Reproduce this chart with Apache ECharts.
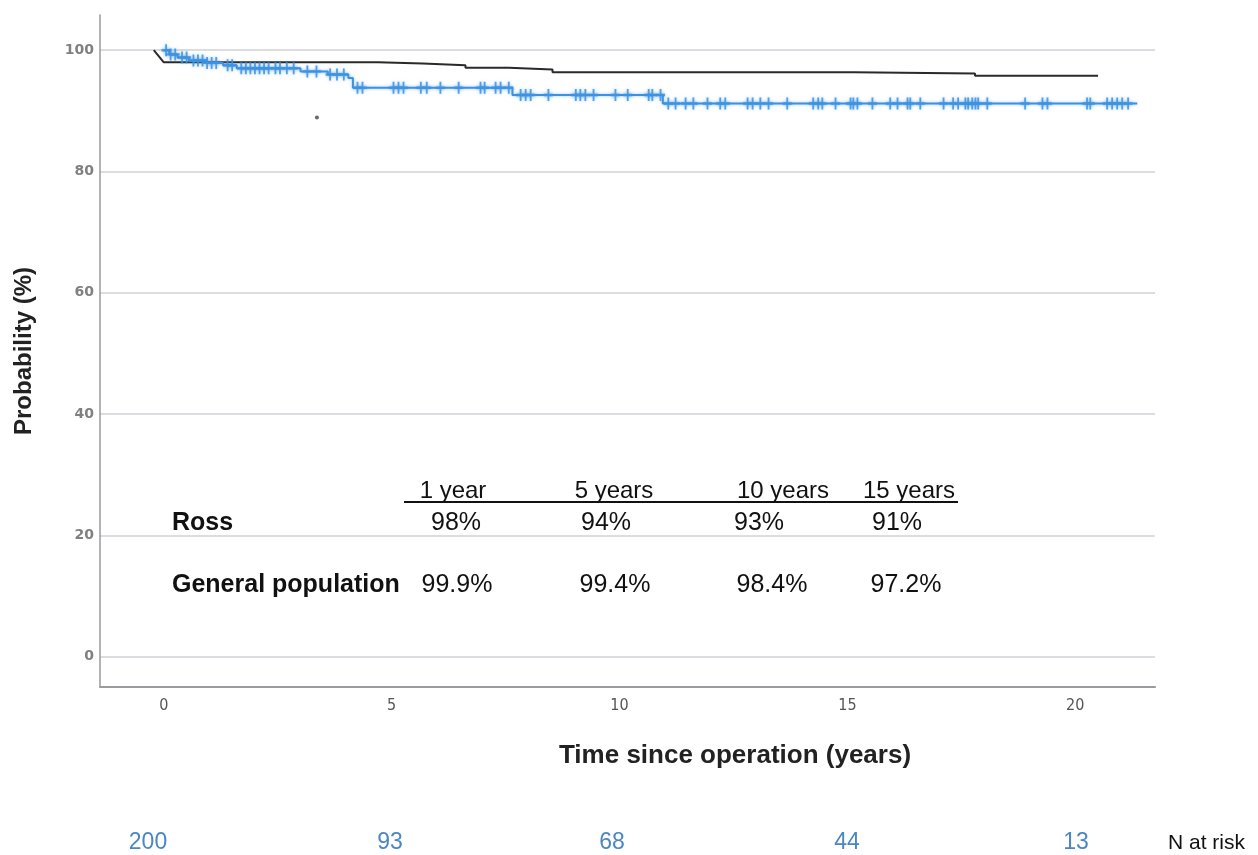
<!DOCTYPE html>
<html>
<head>
<meta charset="utf-8">
<script src="https://cdn.jsdelivr.net/npm/echarts@6/dist/echarts.min.js"></script>
<style>
  html, body { margin: 0; padding: 0; background: #fff; }
  #chart { width: 1258px; height: 855px; }
</style>
</head>
<body>
<div id="chart"></div>
<script>
// Ross procedure: Kaplan-Meier survival (event times in years, survival % after each step)
const rossTimes  = [0, 0.12, 0.3, 0.55, 0.95, 1.3, 1.6, 3.0, 3.6, 4.05, 4.15, 7.65, 10.95];
const rossValues = [100, 99.3, 98.8, 98.3, 97.9, 97.5, 97.0, 96.5, 96.0, 95.4, 93.8, 92.6, 91.2];
const rossEnd = 21.36;

// Censored observations (years)
const rossCensored = [
  0.05, 0.15, 0.25, 0.4, 0.5, 0.65, 0.75, 0.85, 0.95, 1.05, 1.15,
  1.4, 1.5, 1.7, 1.8, 1.9, 2.0, 2.1, 2.2, 2.3, 2.45, 2.55, 2.7, 2.85,
  3.15, 3.35, 3.65, 3.8, 3.95,
  4.25, 4.36, 5.04, 5.15, 5.26, 5.64, 5.77, 6.07, 6.47, 6.95, 7.04, 7.28, 7.39, 7.57,
  7.83, 7.94, 8.05, 8.44, 9.04, 9.14, 9.25, 9.43, 9.91, 10.18, 10.64, 10.72, 10.9,
  11.07, 11.23, 11.45, 11.62, 11.93, 12.21, 12.32, 12.81, 12.92, 13.09, 13.27, 13.68,
  14.25, 14.36, 14.45, 14.74, 15.07, 15.13, 15.22, 15.55, 15.94, 16.1, 16.32, 16.38,
  16.6, 17.11, 17.32, 17.43, 17.59, 17.65, 17.74, 17.81, 17.87, 18.07, 18.9, 19.28,
  19.39, 20.26, 20.33, 20.7, 20.81, 20.92, 21.03, 21.16
];

// General population (expected survival)
const popTimes  = [-0.22, 0, 4.7, 5.68, 6.62, 7.57, 8.53, 15.13, 17.8, 20.5];
const popValues = [100, 98.0, 97.8, 97.5, 97.1, 96.8, 96.35, 96.15, 95.8, 95.8];

// Isolated point
const strayPoint = [3.36, 88.9];

// Axis tick labels
const yTicks = [0, 20, 40, 60, 80, 100];
const xTicks = [0, 5, 10, 15, 20];

// Summary table
const tableYears = ['1 year', '5 years', '10 years', '15 years'];
const tableRoss = ['98%', '94%', '93%', '91%'];
const tablePop = ['99.9%', '99.4%', '98.4%', '97.2%'];

// Numbers at risk
const atRisk = ['200', '93', '68', '44', '13'];

const FONT = "'Liberation Sans', Arial, sans-serif";
const BLUE = '#3d93e2';

// Build step path for the KM curve
const rossLine = rossTimes.map((t, i) => [t, rossValues[i]]);
rossLine.push([rossEnd, rossValues[rossValues.length - 1]]);

function survivalAt(t) {
  let v = rossValues[0];
  for (let i = 0; i < rossTimes.length; i++) {
    if (rossTimes[i] <= t) v = rossValues[i];
  }
  return v;
}
const censorPoints = rossCensored.map(t => [t, survivalAt(t)]);

// General population: first segment is a sloped drop, then steps
const popLine = [[popTimes[0], popValues[0]], [popTimes[1], popValues[1]]];
for (let i = 2; i < popTimes.length; i++) {
  popLine.push([popTimes[i], popValues[i - 1]]);
  popLine.push([popTimes[i], popValues[i]]);
}

const chart = echarts.init(document.getElementById('chart'), null, { renderer: 'canvas' });

const graphics = [];
// Table header with underline
const headerX = [453, 614, 783, 909];
const rossX = [456, 606, 759, 897];
const popX = [457, 615, 772, 906];
tableYears.forEach((s, i) => {
  graphics.push({ type: 'text', x: headerX[i], y: 491,
    style: { text: s, fill: '#111', font: '24px ' + FONT, textAlign: 'center', textVerticalAlign: 'middle' } });
});
graphics.push({ type: 'line', shape: { x1: 404, y1: 502, x2: 958, y2: 502 },
  style: { stroke: '#111', lineWidth: 2 } });
graphics.push({ type: 'text', x: 172, y: 523,
  style: { text: 'Ross', fill: '#111', font: 'bold 25px ' + FONT, textAlign: 'left', textVerticalAlign: 'middle' } });
graphics.push({ type: 'text', x: 172, y: 585,
  style: { text: 'General population', fill: '#111', font: 'bold 25px ' + FONT, textAlign: 'left', textVerticalAlign: 'middle' } });
tableRoss.forEach((s, i) => {
  graphics.push({ type: 'text', x: rossX[i], y: 523,
    style: { text: s, fill: '#111', font: '25px ' + FONT, textAlign: 'center', textVerticalAlign: 'middle' } });
});
tablePop.forEach((s, i) => {
  graphics.push({ type: 'text', x: popX[i], y: 585,
    style: { text: s, fill: '#111', font: '25px ' + FONT, textAlign: 'center', textVerticalAlign: 'middle' } });
});
// X axis title
graphics.push({ type: 'text', x: 735, y: 756,
  style: { text: 'Time since operation (years)', fill: '#222', font: 'bold 26px ' + FONT, textAlign: 'center', textVerticalAlign: 'middle' } });
// Numbers at risk row
const riskX = [148, 390, 612, 847, 1076];
atRisk.forEach((s, i) => {
  graphics.push({ type: 'text', x: riskX[i], y: 843,
    style: { text: s, fill: '#4a86c4', font: '23px ' + FONT, textAlign: 'center', textVerticalAlign: 'middle' } });
});
graphics.push({ type: 'text', x: 1168, y: 843,
  style: { text: 'N at risk', fill: '#111', font: '21px ' + FONT, textAlign: 'left', textVerticalAlign: 'middle' } });

chart.setOption({
  backgroundColor: '#ffffff',
  animation: false,
  grid: { left: 100, right: 103, top: 15, bottom: 168, containLabel: false },
  xAxis: {
    type: 'value',
    min: -1.4,
    max: 21.75,
    axisLine: { show: true, onZero: false, lineStyle: { color: '#9a9a9f', width: 2 } },
    axisTick: { show: false, customValues: xTicks },
    splitLine: { show: false },
    axisLabel: {
      customValues: xTicks,
      color: '#555',
      fontSize: 16,
      fontFamily: "'DejaVu Sans Condensed', 'Liberation Sans Narrow', sans-serif",
      margin: 11
    }
  },
  yAxis: {
    type: 'value',
    min: -5,
    max: 105.8,
    name: 'Probability (%)',
    nameLocation: 'middle',
    nameRotate: 90,
    nameGap: 64,
    nameTextStyle: { color: '#222', fontSize: 24, fontWeight: 'bold', fontFamily: FONT },
    axisLine: { show: true, onZero: false, lineStyle: { color: '#9a9a9f', width: 1.5 } },
    axisTick: { show: false, customValues: yTicks },
    splitLine: { show: true, lineStyle: { color: '#dcdce1', width: 2 } },
    axisLabel: {
      customValues: yTicks,
      color: '#808080',
      fontSize: 14,
      fontWeight: 'bold',
      fontFamily: "'DejaVu Sans', sans-serif",
      margin: 6
    }
  },
  series: [
    {
      name: 'General population',
      type: 'line',
      data: popLine,
      showSymbol: false,
      lineStyle: { color: '#2a2a2a', width: 2 },
      z: 3
    },
    {
      name: 'Ross',
      type: 'line',
      step: 'end',
      data: rossLine,
      showSymbol: false,
      lineStyle: { color: BLUE, width: 2, shadowColor: 'rgba(61,147,226,0.5)', shadowBlur: 3 },
      z: 4
    },
    {
      name: 'Censored',
      type: 'scatter',
      data: censorPoints,
      symbol: 'path://M4,0H6V4H10V6H6V10H4V6H0V4H4Z',
      symbolSize: [9, 12],
      itemStyle: { color: BLUE, opacity: 0.85, shadowColor: 'rgba(61,147,226,0.6)', shadowBlur: 3 },
      z: 5
    },
    {
      name: 'Point',
      type: 'scatter',
      data: [strayPoint],
      symbolSize: 4,
      itemStyle: { color: '#444' },
      z: 5
    }
  ],
  graphic: graphics
});
</script>
</body>
</html>
